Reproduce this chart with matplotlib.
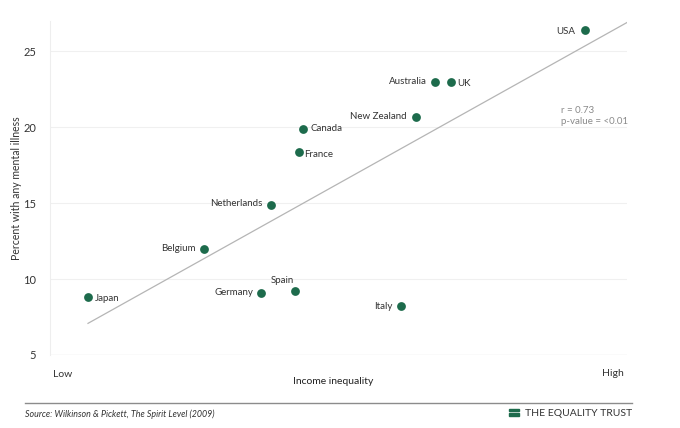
import numpy as np
import matplotlib
matplotlib.use("Agg")
import matplotlib.pyplot as plt
from matplotlib.patches import Rectangle

# income inequality (ratio richest 20% to poorest 20%) vs mental illness
countries = ["Japan", "Belgium", "Germany", "Netherlands", "Spain", "France",
             "Canada", "Italy", "New Zealand", "Australia", "UK", "USA"]
inequality = [3.40, 4.59, 5.18, 5.28, 5.52, 5.57, 5.61, 6.61, 6.77, 6.96, 7.12, 8.50]
mental_illness = [8.8, 12.0, 9.1, 14.9, 9.2, 18.4, 19.9, 8.2, 20.7, 23.0, 23.0, 26.4]
y_ticks = [5, 10, 15, 20, 25]

# label placement (offset in points, horizontal alignment)
label_pos = {
    "Japan": ((5, -1), "left"),
    "Belgium": ((-6, 0), "right"),
    "Germany": ((-6, 0), "right"),
    "Netherlands": ((-6, 1), "right"),
    "Spain": ((-9, 8), "center"),
    "France": ((3, -2), "left"),
    "Canada": ((5, 0), "left"),
    "Italy": ((-6, 0), "right"),
    "New Zealand": ((-7, 0), "right"),
    "Australia": ((-6, 0), "right"),
    "UK": ((5, -1), "left"),
    "USA": ((-7, -1), "right"),
}

green = "#1d6b4c"
font = "Lato"
plt.rcParams["font.family"] = [font, "DejaVu Sans"]

fig = plt.figure(figsize=(6.8, 4.28), dpi=100)
ax = fig.add_axes([0.0735, 0.1706, 0.8485, 0.7804])

x0, x1 = 3.01, 8.93
ax.set_xlim(x0, x1)
ax.set_ylim(5, 27)

# regression line
slope, icpt = np.polyfit(inequality, mental_illness, 1)
r = np.corrcoef(inequality, mental_illness)[0, 1]
xs = np.array([min(inequality), x1])
ax.plot(xs, slope * xs + icpt, color="#b5b5b5", lw=0.9, zorder=2)

ax.scatter(inequality, mental_illness, s=40, color=green, zorder=3, linewidths=0)

for name, xv, yv in zip(countries, inequality, mental_illness):
    off, ha = label_pos[name]
    ax.annotate(name, (xv, yv), xytext=off, textcoords="offset points",
                ha=ha, va="center", fontsize=7, color="#333333")

ax.text(0.885, 0.745, "r = %.2f\np-value = <0.01" % r, transform=ax.transAxes,
        fontsize=7, color="#8a8a8a", va="top", ha="left", linespacing=1.3)

ax.set_yticks(y_ticks)
ax.set_xticks([])
ax.tick_params(axis="y", length=0, labelsize=8, labelcolor="#333333", pad=10)
ax.yaxis.grid(True, color="#f0f0f0", lw=0.8)
ax.set_axisbelow(True)
for s in ["top", "right", "bottom"]:
    ax.spines[s].set_visible(False)
ax.spines["left"].set_color("#eeeeee")
ax.axhline(5, color="#e6e6e6", lw=0.9, zorder=1)

ax.set_ylabel("Percent with any mental illness", fontsize=7.6, color="#333333")
ax.yaxis.set_label_coords(-0.048, 0.5)
ax.text(0.005, -0.045, "Low", transform=ax.transAxes, fontsize=7.5, color="#333333",
        ha="left", va="top")
ax.text(0.995, -0.042, "High", transform=ax.transAxes, fontsize=7.5, color="#333333",
        ha="right", va="top")
ax.text(0.49, -0.065, "Income inequality", transform=ax.transAxes, fontsize=7.5,
        color="#222222", ha="center", va="top")

# footer
fig.add_artist(plt.Line2D([25 / 680, 632 / 680], [1 - 403 / 428] * 2,
                          color="#8c8c8c", lw=1.0))
fig.text(25 / 680, 1 - 414 / 428, "Source: Wilkinson & Pickett, The Spirit Level (2009)",
         fontsize=6.4, style="italic", color="#333333", va="center", ha="left")
fig.text(632 / 680, 1 - 414 / 428, "THE EQUALITY TRUST", fontsize=7.5,
         color="#333333", va="center", ha="right")
for dy in (411, 415.5):
    fig.add_artist(Rectangle((509 / 680, 1 - dy / 428), 10 / 680, 2.2 / 428,
                             color=green, transform=fig.transFigure))

fig.savefig("out.png", dpi=100, facecolor="white")
